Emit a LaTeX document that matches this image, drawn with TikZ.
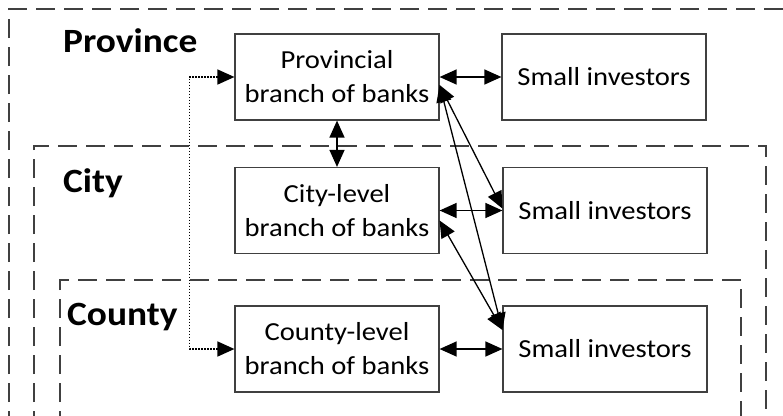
\documentclass[tikz,border=0pt]{standalone}
\usepackage{fontspec}
\setmainfont{Carlito}[FakeStretch=1.1]
\usepackage{xcolor}
\usetikzlibrary{arrows.meta,positioning}
\definecolor{framegray}{HTML}{404040}

\begin{document}
\begin{tikzpicture}[x=1pt, y=-1pt,
  unit/.style={draw=framegray, line width=1.2pt, minimum width=204pt, minimum height=86pt,
               align=center, inner sep=0pt, font=\fontsize{26}{34}\selectfont},
  level/.style={draw=framegray, line width=1.2pt, dash pattern=on 19pt off 9pt},
  tag/.style={font=\fontsize{34}{40}\selectfont\bfseries, anchor=base west, inner sep=0pt},
  link/.style={{Triangle[length=17pt,width=15pt]}-{Triangle[length=17pt,width=15pt]}, line width=1.3pt},
  jump/.style={link, line width=1.5pt, dash pattern=on 1.5pt off 1.5pt}
]
\useasboundingbox (0,0) rectangle (783,415);
\clip (0,0) rectangle (783,415);

% Levels (dashed frames)
\draw[level] (9,430) |- (800,9);
\draw[level] (34,430) |- (766,146) -- (766,430);
\draw[level] (60,430) |- (741,280) -- (741,430);

\node[tag] (tprov) at (63,52) {Province};
\node[tag] (tcity) at (63,192) {City};
\node[tag] (tcounty) at (67,325) {County};

% Bank branches
\node[unit] (prov) at (337,77) {Provincial\\branch of banks};
\node[unit] (city) at (337,210.5) {City-level\\branch of banks};
\node[unit] (county) at (337,349) {County-level\\branch of banks};

% Investors
\node[unit] (si1) at (604,77) {Small investors};
\node[unit] (si2) at (605,210.5) {Small investors};
\node[unit] (si3) at (605,349) {Small investors};

% Arrows
\draw[link] (prov.east) -- (si1.west);
\draw[link] (city.east) -- (si2.west);
\draw[link] (county.east) -- (si3.west);
\draw[link] (prov.south) -- (city.north);
\draw[link] ([yshift=-8pt]prov.east) -- ([yshift=2pt]si2.west);
\draw[link] ([yshift=-8pt]prov.east) -- ([yshift=19pt]si3.west);
\draw[link] ([yshift=-10pt]city.east) -- ([yshift=19pt]si3.west);
\draw[jump] (prov.west) -- ++(-45,0) |- (county.west);

\end{tikzpicture}
\end{document}
